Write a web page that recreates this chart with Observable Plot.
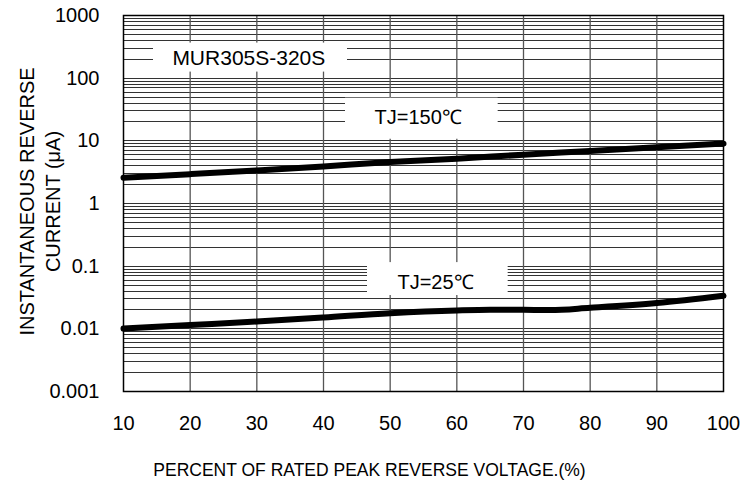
<!DOCTYPE html>
<html>
<head>
<meta charset="utf-8">
<script src="https://cdn.jsdelivr.net/npm/d3@7"></script>
<script src="https://cdn.jsdelivr.net/npm/@observablehq/plot@0.6"></script>
<style>
  html, body { margin: 0; padding: 0; background: #fff; }
  #chart svg { display: block; }
</style>
</head>
<body>
<div id="chart"></div>
<script>
// ---- data ----
const percent = [10, 20, 30, 40, 50, 60, 70, 80, 90, 100];
const tj150 = [2.58, 2.94, 3.37, 3.91, 4.58, 5.19, 6.01, 6.87, 7.87, 9.02];
const tj25Percent = [10, 20, 30, 40, 50, 60, 65, 70, 74, 80, 90, 100];
const tj25 = [0.0101, 0.0115, 0.0131, 0.0152, 0.0178, 0.0197, 0.0202, 0.0201, 0.0199, 0.0217, 0.0258, 0.0337];

const xTicks = [10, 20, 30, 40, 50, 60, 70, 80, 90, 100];
const yTicks = [0.001, 0.01, 0.1, 1, 10, 100, 1000];
const yTickLabels = ["0.001", "0.01", "0.1", "1", "10", "100", "1000"];
const minorMultipliers = [1, 2, 3, 4, 5, 6, 7, 8, 9];

const labels = [
  {text: "MUR305S-320S", size: 21, x: 28.8, y: 209, x1: 14.5, x2: 43.6, y1: 125, y2: 363},
  {text: "TJ=150℃", size: 20, x: 54.2, y: 23.8, x1: 43.3, x2: 66.2, y1: 10.6, y2: 47.9},
  {text: "TJ=25℃", size: 20, x: 56.8, y: 0.0545, x1: 46.6, x2: 67.7, y1: 0.034, y2: 0.114}
];

const xTitle = "PERCENT OF RATED PEAK REVERSE VOLTAGE.(%)";
const yTitle1 = "INSTANTANEOUS REVERSE";
const yTitle2 = "CURRENT (μA)";

// ---- derived tables ----
const yGrid = [];
yTicks.slice(0, -1).forEach(d => minorMultipliers.forEach(m => yGrid.push(d * m)));
yGrid.push(1000);
const xGrid = xTicks.slice(1, -1);
const s150 = percent.map((p, i) => ({p, v: tj150[i]}));
const s25 = tj25Percent.map((p, i) => ({p, v: tj25[i]}));

const font = "'Liberation Sans', Arial, Helvetica, sans-serif";

const chart = Plot.plot({
  width: 745,
  height: 494,
  marginLeft: 123,
  marginRight: 22,
  marginTop: 15,
  marginBottom: 103,
  x: {domain: [10, 100]},
  y: {type: "log", domain: [0.001, 1000]},
  style: {fontFamily: font, fontSize: "20px", color: "#000", background: "#fff", overflow: "visible"},
  marks: [
    Plot.ruleY(yGrid, {stroke: "#333", strokeWidth: 1, shapeRendering: "crispEdges"}),
    Plot.ruleX(xGrid, {stroke: "#555", strokeWidth: 1.3}),
    Plot.rect(labels, {x1: "x1", x2: "x2", y1: "y1", y2: "y2", fill: "#fff"}),
    Plot.frame({stroke: "#000", strokeWidth: 1.5}),
    Plot.line(s150, {x: "p", y: "v", stroke: "#000", strokeWidth: 6, curve: "monotone-x"}),
    Plot.line(s25, {x: "p", y: "v", stroke: "#000", strokeWidth: 6, curve: "monotone-x"}),
    Plot.text(labels, {x: "x", y: "y", text: "text", fontSize: d => d.size, fill: "#000"}),
    Plot.axisX(xTicks, {tickSize: 0, tickPadding: 24, fontSize: 20}),
    Plot.axisY(yTicks, {tickSize: 0, tickPadding: 24, fontSize: 20,
      tickFormat: d => yTickLabels[yTicks.indexOf(d)]}),
    Plot.text([xTitle], {text: d => d, frameAnchor: "bottom", textAnchor: "middle", dx: -54, dy: 84, fontSize: 17.5}),
    Plot.text([yTitle1], {text: d => d, frameAnchor: "left", textAnchor: "middle", dx: -96, dy: -2, rotate: -90, fontSize: 20}),
    Plot.text([yTitle2], {text: d => d, frameAnchor: "left", textAnchor: "middle", dx: -70, dy: -2, rotate: -90, fontSize: 20})
  ]
});
document.getElementById("chart").appendChild(chart);
</script>
</body>
</html>
